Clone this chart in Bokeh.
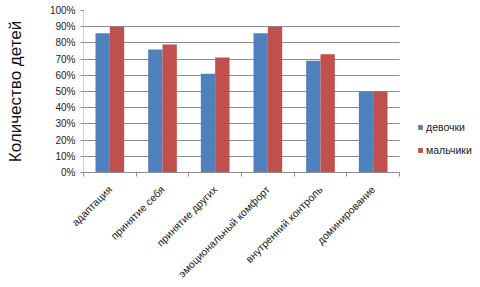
from bokeh.plotting import figure
from bokeh.models import (ColumnDataSource, FixedTicker, NumeralTickFormatter,
                          Legend, LegendItem, Range1d, BoxAnnotation)
from bokeh.transform import dodge
from bokeh.embed import file_html
from bokeh.resources import INLINE

categories = ["адаптация", "принятие себя", "принятие других",
              "эмоциональный комфорт", "внутренний контроль", "доминирование"]
girls = [0.86, 0.76, 0.61, 0.86, 0.69, 0.50]
boys = [0.90, 0.79, 0.71, 0.90, 0.73, 0.50]
series_names = ["девочки", "мальчики"]
y_label = "Количество детей"

n = len(categories)
pos = [i + 0.5 for i in range(n)]
src = ColumnDataSource(dict(x=pos, girls=girls, boys=boys))

FONT = "Liberation Sans"
GRID = "#8c8c8c"

# frame spans to the right edge so the legend can live inside it;
# the category area occupies pixels 83..399 of the 480 wide canvas
x_end = n * (480 - 83) / (399 - 83)
p = figure(width=480, height=287, output_backend="svg", toolbar_location=None,
           x_range=Range1d(0, x_end), y_range=Range1d(0, 1),
           min_border_left=83, min_border_right=0, min_border_top=10,
           min_border_bottom=115)
p.outline_line_color = None
p.background_fill_color = "white"
p.border_fill_color = "white"

bw = 0.272
r1 = p.vbar(x=dodge("x", -bw / 2, range=p.x_range), top="girls", width=bw,
            bottom=0, source=src, fill_color="#4F81BD", line_color=None)
r2 = p.vbar(x=dodge("x", bw / 2, range=p.x_range), top="boys", width=bw,
            bottom=0, source=src, fill_color="#C0504D", line_color=None)

# blank out grid lines to the right of the category area
p.add_layout(BoxAnnotation(left=n, fill_color="white", fill_alpha=1,
                           line_color=None, level="glyph"))

# x axis: labels at centers, tick marks at category boundaries
xa = p.xaxis[0]
xa.bounds = (0, n)
xa.ticker = FixedTicker(ticks=pos, minor_ticks=list(range(n + 1)))
xa.major_label_overrides = {x: c for x, c in zip(pos, categories)}
xa.major_tick_line_color = None
xa.minor_tick_line_color = GRID
xa.minor_tick_out = 4
xa.minor_tick_in = 0
xa.axis_line_color = GRID
xa.major_label_orientation = 0.785398
xa.major_label_text_font = FONT
xa.major_label_text_font_size = "10.5px"
xa.major_label_text_color = "#222222"
xa.major_label_standoff = 9
p.xgrid.grid_line_color = None

ya = p.yaxis[0]
ya.ticker = FixedTicker(ticks=[i / 10 for i in range(11)])
ya.formatter = NumeralTickFormatter(format="0%")
ya.major_tick_line_color = GRID
ya.major_tick_out = 3
ya.major_tick_in = 0
ya.minor_tick_line_color = None
ya.axis_line_color = "#d0d0d0"
ya.major_label_text_font = FONT
ya.major_label_text_font_size = "10px"
ya.major_label_text_color = "#222222"
ya.major_label_standoff = 5
ya.axis_label = y_label
ya.axis_label_text_font = FONT
ya.axis_label_text_font_size = "17px"
ya.axis_label_text_font_style = "normal"
ya.axis_label_text_color = "#111111"
ya.axis_label_standoff = 22
p.ygrid.grid_line_color = GRID
p.ygrid.ticker = ya.ticker

legend = Legend(items=[LegendItem(label=series_names[0], renderers=[r1]),
                       LegendItem(label=series_names[1], renderers=[r2])],
                location=(334, 16), orientation="vertical",
                glyph_width=6, glyph_height=6, label_height=10, spacing=11,
                label_standoff=3, padding=0, margin=0,
                border_line_color=None, background_fill_alpha=0,
                label_text_font=FONT, label_text_font_size="10.5px",
                label_text_color="#222222")
p.add_layout(legend, "center")

open("out.html", "w").write(file_html(p, INLINE))
